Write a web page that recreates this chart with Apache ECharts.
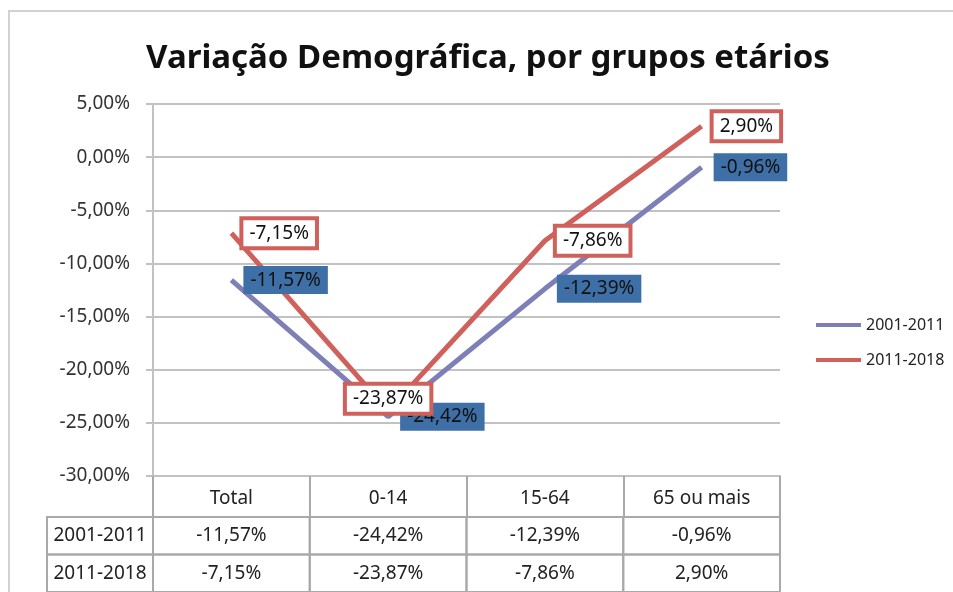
<!DOCTYPE html>
<html>
<head>
<meta charset="utf-8">
<script src="https://cdn.jsdelivr.net/npm/echarts@6/dist/echarts.min.js"></script>
<style>
html,body{margin:0;padding:0;background:#fff;}
#c{width:953px;height:592px;}
</style>
</head>
<body>
<div id="c"></div>
<script>
const titleText = 'Variação Demográfica, por grupos etários';
const categories = ['Total', '0-14', '15-64', '65 ou mais'];
const seriesNames = ['2001-2011', '2011-2018'];
const values2001_2011 = [-11.57, -24.42, -12.39, -0.96];
const values2011_2018 = [-7.15, -23.87, -7.86, 2.90];
const yMin = -30, yMax = 5, yStep = 5;

const FONT = 'Noto Sans';
const fmt = v => v.toFixed(2).replace('.', ',') + '%';
const gridColor = '#c2c2c2';
const tableColor = '#a9a9a9';
const purple = '#7d7fb6';
const red = '#d0605b';
const blueBox = '#3e6fa6';

const allRows = [values2001_2011, values2011_2018];
const tableData = [];
allRows.forEach((row, r) => row.forEach((v, c) => tableData.push([c, r, v])));

const chart = echarts.init(document.getElementById('c'), null, {renderer: 'canvas'});

const baseLabel = {
  show: true,
  position: 'right',
  distance: 12,
  fontFamily: FONT,
  fontSize: 19,
  color: '#111',
  formatter: p => fmt(Array.isArray(p.value) ? p.value[1] : p.value)
};

chart.setOption({
  animation: false,
  backgroundColor: '#fff',
  graphic: [{
    type: 'rect', silent: true, z: -10,
    shape: {x: 9, y: 11, width: 1200, height: 800},
    style: {fill: null, stroke: '#d2d2d2', lineWidth: 2}
  }],
  title: {
    text: titleText,
    left: 483, top: 37, textAlign: 'center',
    textStyle: {fontFamily: FONT, fontWeight: 'bold', fontSize: 33, color: '#111'}
  },
  legend: {
    orient: 'vertical',
    left: 811, top: 312,
    itemWidth: 45, itemHeight: 4, itemGap: 19,
    icon: 'rect',
    data: seriesNames,
    textStyle: {fontFamily: FONT, fontSize: 16, color: '#222'}
  },
  grid: [
    {left: 153, right: 173, top: 104, bottom: 116},
    {left: 153, right: 173, top: 517, height: 76}
  ],
  xAxis: [{
    type: 'category', gridIndex: 0, data: categories, boundaryGap: true,
    axisLine: {onZero: false, lineStyle: {color: gridColor, width: 2}},
    axisTick: {show: true, interval: 0, length: 41, lineStyle: {color: tableColor, width: 2}},
    axisLabel: {interval: 0, margin: 13, fontFamily: FONT, fontSize: 19, color: '#222'},
    splitLine: {show: false}
  }, {
    type: 'category', gridIndex: 1, data: categories, show: false
  }],
  yAxis: [{
    type: 'value', gridIndex: 0, min: yMin, max: yMax, interval: yStep,
    axisLine: {show: true, lineStyle: {color: gridColor, width: 2}},
    axisTick: {show: true, length: 7, lineStyle: {color: gridColor, width: 2}},
    axisLabel: {margin: 23, fontFamily: FONT, fontSize: 19, color: '#333', formatter: v => fmt(v)},
    splitLine: {lineStyle: {color: gridColor, width: 2}}
  }, {
    type: 'category', gridIndex: 1, data: seriesNames, inverse: true,
    axisLine: {show: false}, axisTick: {show: false}, splitLine: {show: false},
    axisLabel: {margin: 53, align: 'center', fontFamily: FONT, fontSize: 19, color: '#222'}
  }],
  series: [{
    name: seriesNames[0], type: 'line', xAxisIndex: 0, yAxisIndex: 0,
    data: values2001_2011,
    showSymbol: false,
    itemStyle: {color: purple},
    lineStyle: {color: purple, width: 5},
    z: 3
  }, {
    name: seriesNames[1], type: 'line', xAxisIndex: 0, yAxisIndex: 0,
    data: values2011_2018,
    showSymbol: false,
    itemStyle: {color: red},
    lineStyle: {color: red, width: 5},
    z: 4
  }, {
    type: 'scatter', xAxisIndex: 0, yAxisIndex: 0,
    data: values2001_2011.map((v, i) => [i, v]),
    symbolSize: 0, silent: true,
    itemStyle: {opacity: 1, color: blueBox},
    label: Object.assign({}, baseLabel, {
      backgroundColor: blueBox, padding: [5, 7, 4, 7]
    }),
    z: 10
  }, {
    type: 'scatter', xAxisIndex: 0, yAxisIndex: 0,
    data: values2011_2018.map((v, i) => i === 1
      ? {value: [i, v], label: {position: 'inside', offset: [0, -12]}}
      : [i, v]),
    symbolSize: 0, silent: true,
    itemStyle: {opacity: 1, color: red},
    label: Object.assign({}, baseLabel, {
      backgroundColor: '#fff', borderColor: red, borderWidth: 4, padding: [4, 6, 3, 6]
    }),
    z: 11
  }, {
    type: 'custom', xAxisIndex: 1, yAxisIndex: 1,
    data: tableData,
    encode: {x: 0, y: 1},
    silent: true,
    renderItem: (params, api) => {
      const c = api.value(0), r = api.value(1);
      const pt = api.coord([c, r]);
      const sz = api.size([1, 1]);
      const children = [{
        type: 'rect',
        shape: {x: pt[0] - sz[0] / 2, y: pt[1] - sz[1] / 2, width: sz[0], height: sz[1]},
        style: {fill: null, stroke: tableColor, lineWidth: 2}
      }, {
        type: 'text',
        style: {x: pt[0], y: pt[1], text: fmt(api.value(2)), align: 'center', verticalAlign: 'middle',
          font: '19px "' + FONT + '"', fill: '#222'}
      }];
      if (c === 0) {
        const left = params.coordSys.x - 106;
        children.push({
          type: 'rect',
          shape: {x: left, y: pt[1] - sz[1] / 2, width: params.coordSys.x - left, height: sz[1]},
          style: {fill: null, stroke: tableColor, lineWidth: 2}
        });
      }
      return {type: 'group', children};
    }
  }]
});
</script>
</body>
</html>
